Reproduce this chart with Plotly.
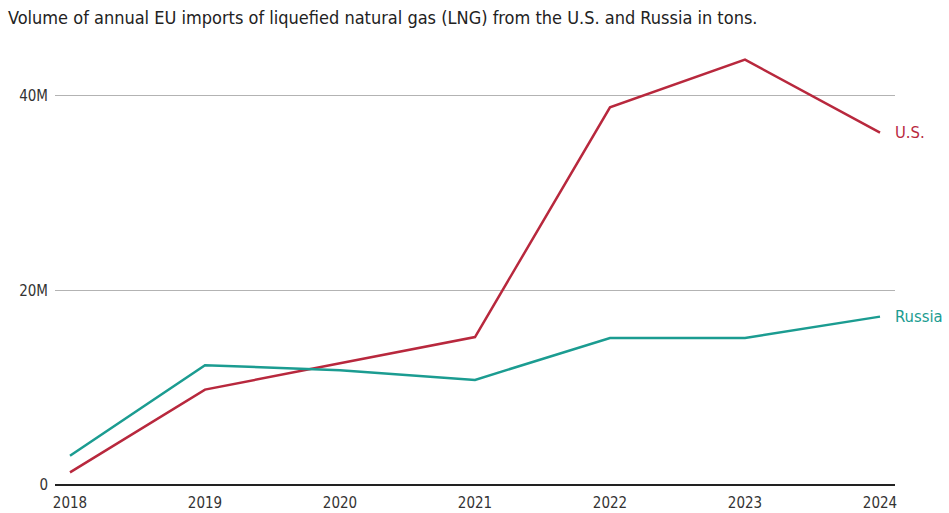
import plotly.graph_objects as go

years = [2018, 2019, 2020, 2021, 2022, 2023, 2024]
us_tons = [1.3e6, 9.8e6, 12.5e6, 15.2e6, 38.8e6, 43.7e6, 36.2e6]
russia_tons = [3.0e6, 12.3e6, 11.8e6, 10.8e6, 15.1e6, 15.1e6, 17.3e6]
y_tickvals = [0, 20e6, 40e6]
y_ticktext = ["0", "20M", "40M"]
title_text = "Volume of annual EU imports of liquefied natural gas (LNG) from the U.S. and Russia in tons."

US_COLOR = "#b8283d"
RU_COLOR = "#1b9c91"
FONT = "DejaVu Sans Condensed, Liberation Sans Narrow, sans-serif"

fig = go.Figure()
fig.add_trace(go.Scatter(x=years, y=us_tons, mode="lines", name="U.S.",
                         line=dict(color=US_COLOR, width=2.5), cliponaxis=False))
fig.add_trace(go.Scatter(x=years, y=russia_tons, mode="lines", name="Russia",
                         line=dict(color=RU_COLOR, width=2.5), cliponaxis=False))

fig.add_annotation(x=years[-1], y=us_tons[-1], text="U.S.", showarrow=False,
                   xanchor="left", xshift=13, font=dict(color=US_COLOR, size=16.5, family=FONT))
fig.add_annotation(x=years[-1], y=russia_tons[-1], text="Russia", showarrow=False,
                   xanchor="left", xshift=13, font=dict(color=RU_COLOR, size=16.5, family=FONT))

fig.update_layout(
    width=949, height=513,
    margin=dict(l=55, r=54, t=47, b=28, autoexpand=False),
    paper_bgcolor="white", plot_bgcolor="white",
    showlegend=False,
    font=dict(family=FONT, size=15, color="#333333"),
    title=dict(text=title_text, x=8/949, xref="container", xanchor="left",
               y=1-18/513, yref="container", yanchor="middle",
               font=dict(family=FONT, size=18, color="#222222")),
    xaxis=dict(range=[2017.889, 2024.111], tickvals=years, ticktext=[str(y) for y in years],
               showgrid=False, zeroline=False, showline=False, ticks="",
               ticklabelstandoff=7, automargin=False,
               tickfont=dict(size=15, color="#333333")),
    yaxis=dict(range=[0, 45e6], tickvals=y_tickvals, ticktext=y_ticktext,
               showgrid=True, gridcolor="#b3b3b3", gridwidth=1,
               zeroline=True, zerolinecolor="#222222", zerolinewidth=1.5,
               showline=False, ticks="", ticklabelstandoff=6, automargin=False,
               tickfont=dict(size=15, color="#333333")),
)

fig.write_html("out.html")
